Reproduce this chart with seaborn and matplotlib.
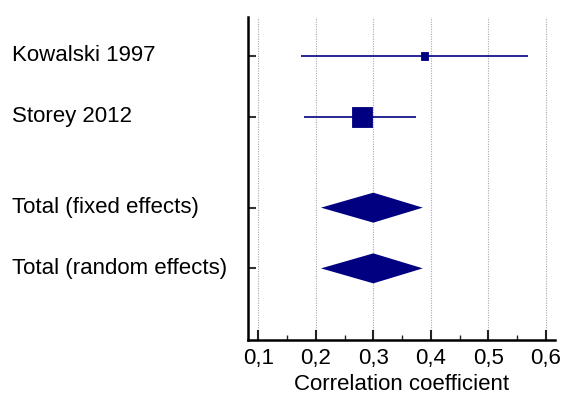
import matplotlib
matplotlib.use("Agg")
import matplotlib.pyplot as plt
import matplotlib.transforms as mtransforms
import seaborn as sns
import pandas as pd

# Studies and pooled estimates (correlation coefficient with 95% CI)
labels = ["Kowalski 1997", "Storey 2012", "Total (fixed effects)", "Total (random effects)"]
rows = [0.0, 1.0, 2.5, 3.5]
estimate = [0.389, 0.28, 0.30, 0.30]
ci_low = [0.175, 0.179, 0.209, 0.209]
ci_high = [0.569, 0.375, 0.386, 0.386]
weight = [13.8, 86.2, 100.0, 100.0]
is_total = [False, False, True, True]
xticks = [0.1, 0.2, 0.3, 0.4, 0.5, 0.6]
xtick_labels = ["0,1", "0,2", "0,3", "0,4", "0,5", "0,6"]

df = pd.DataFrame({
    "label": labels, "row": rows, "r": estimate,
    "lo": ci_low, "hi": ci_high, "w": weight, "total": is_total,
})
studies = df[~df["total"]]
totals = df[df["total"]]

sns.set_theme(style="white")
plt.rcParams["font.family"] = ["Liberation Sans", "DejaVu Sans"]

navy = "#000080"
fs = 16
fig = plt.figure(figsize=(5.63, 3.96), dpi=100)
ax = fig.add_axes([0.4405, 0.1414, 0.5453, 0.8156])

# Confidence interval lines for individual studies
ax.hlines(studies["row"], studies["lo"], studies["hi"], color=navy, lw=1.4, alpha=0.85, zorder=3)

# Study estimates as squares, area proportional to weight
sns.scatterplot(data=studies, x="r", y="row", marker="s", color=navy,
                size="w", sizes=(33, 207), size_norm=(13.8, 86.2),
                edgecolor=navy, linewidth=0.6, legend=False, ax=ax, zorder=4)

# Pooled estimates as diamonds spanning the confidence interval
half_h = 0.247
for _, t in totals.iterrows():
    ax.fill([t["lo"], t["r"], t["hi"], t["r"]],
            [t["row"], t["row"] - half_h, t["row"], t["row"] + half_h],
            color=navy, lw=0, zorder=4)

ax.set_xlim(0.082, 0.616)
ax.set_ylim(4.68, -0.64)
ax.set_xticks(xticks)
ax.set_xticklabels(xtick_labels)
ax.set_xticks([0.15, 0.25, 0.35, 0.45, 0.55], minor=True)
ax.set_yticks(rows)
ax.set_yticklabels([])
ax.set_ylabel("")

# Row labels, left-aligned near the figure edge
label_tf = mtransforms.blended_transform_factory(fig.transFigure, ax.transData)
for lab, r in zip(labels, rows):
    ax.text(12 / 563, r, lab, transform=label_tf, ha="left",
            va="center", fontsize=fs, color="black")

ax.grid(axis="x", color="#aaaaaa", linestyle=(0, (1, 1.2)), lw=0.8)
ax.grid(axis="y", visible=False)
ax.set_axisbelow(True)

for side in ["top", "right"]:
    ax.spines[side].set_visible(False)
for side in ["left", "bottom"]:
    ax.spines[side].set_color("black")
    ax.spines[side].set_linewidth(1.8)

ax.tick_params(axis="x", which="major", direction="in", length=7, width=1.5,
               color="#222222", labelsize=fs, pad=6, bottom=True, labelcolor="black")
ax.tick_params(axis="x", which="minor", direction="in", length=3.5, width=1.0,
               color="#222222", bottom=True)
ax.tick_params(axis="y", which="major", direction="in", length=6, width=1.5,
               color="#333333", left=True)
ax.set_xlabel("Correlation coefficient", fontsize=fs, labelpad=3, color="black")

fig.savefig("out.png", dpi=100)
